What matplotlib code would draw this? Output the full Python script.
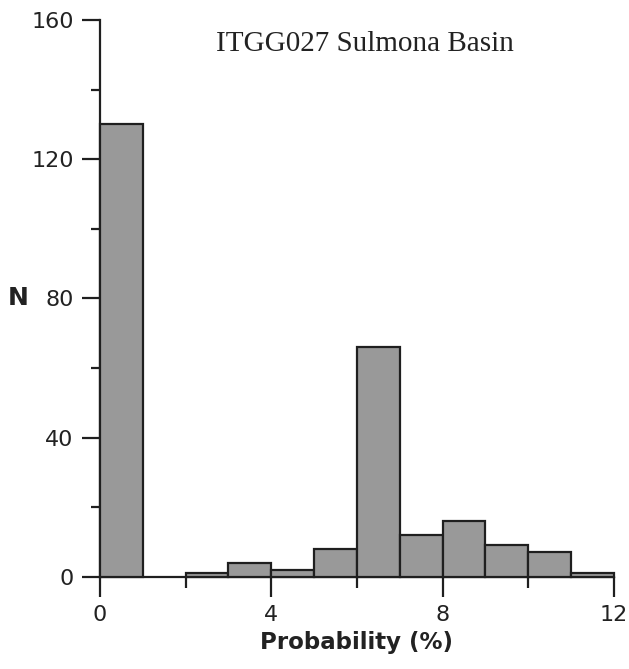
import matplotlib
matplotlib.use("Agg")
import matplotlib.pyplot as plt
from matplotlib.ticker import MultipleLocator

# histogram data
bin_edges = [0, 1, 2, 3, 4, 5, 6, 7, 8, 9, 10, 11, 12]
counts = [130, 0, 1, 4, 2, 8, 66, 12, 16, 9, 7, 1]
x_ticks = [0, 4, 8, 12]
y_ticks = [0, 40, 80, 120, 160]
title_text = "ITGG027 Sulmona Basin"

INK = "#1f1f1f"

fig = plt.figure(figsize=(6.29, 6.69), dpi=100)
ax = fig.add_axes([0.159, 0.138, 0.817, 0.832])

lefts = bin_edges[:-1]
widths = [b - a for a, b in zip(bin_edges[:-1], bin_edges[1:])]
nonzero = [(l, w, c) for l, w, c in zip(lefts, widths, counts) if c > 0]
ax.bar([n[0] for n in nonzero], [n[2] for n in nonzero], width=[n[1] for n in nonzero],
       align="edge", color="#999999", edgecolor=INK, linewidth=1.6,
       clip_on=False, zorder=3)

ax.set_xlim(bin_edges[0], bin_edges[-1])
ax.set_ylim(0, 160)
ax.set_xticks(x_ticks)
ax.set_yticks(y_ticks)
ax.xaxis.set_minor_locator(MultipleLocator(2))
ax.yaxis.set_minor_locator(MultipleLocator(20))

for side in ("top", "right"):
    ax.spines[side].set_visible(False)
for side in ("left", "bottom"):
    ax.spines[side].set_linewidth(1.6)
    ax.spines[side].set_color(INK)

ax.tick_params(axis="x", which="major", direction="out", length=14.5, width=1.6,
               color=INK, labelsize=16, labelcolor="#222222", pad=6)
ax.tick_params(axis="y", which="major", direction="out", length=13, width=1.6,
               color=INK, labelsize=16, labelcolor="#222222", pad=6)
ax.tick_params(axis="x", which="minor", direction="out", length=8, width=1.6, color=INK)
ax.tick_params(axis="y", which="minor", direction="out", length=6.5, width=1.6, color=INK)

ax.set_xlabel("Probability (%)", fontsize=16.5, fontweight="bold", color="#222222", labelpad=4)
ax.set_ylabel("N", fontsize=18, fontweight="bold", color="#222222", rotation=0, labelpad=9,
              va="center")

ax.text(6.18, 151, title_text, fontsize=21, family="Liberation Serif",
        ha="center", va="baseline", color="#222222")

fig.savefig("out.png", dpi=100)
